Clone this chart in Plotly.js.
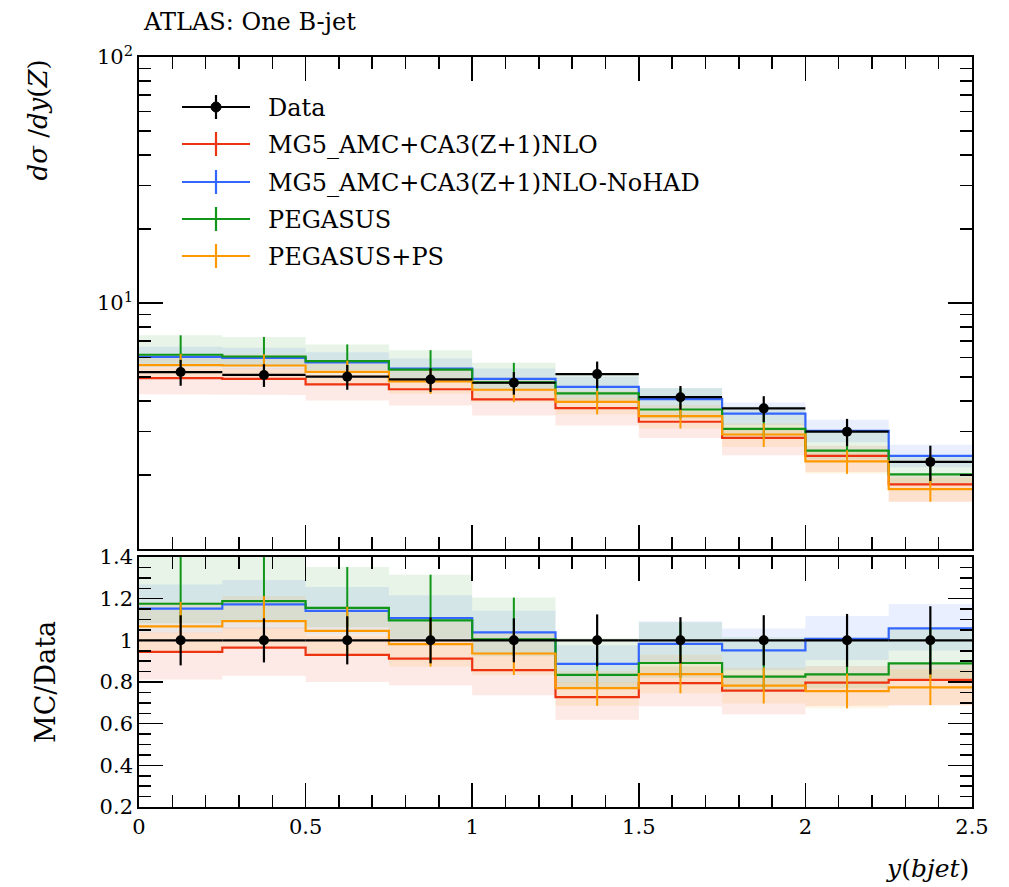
<!DOCTYPE html>
<html>
<head>
<meta charset="utf-8">
<script src="https://cdn.plot.ly/plotly-3.0.1.min.js"></script>
<style>
html,body{margin:0;padding:0;background:#fff;}
#chart{width:1009px;height:887px;}
</style>
</head>
<body>
<div id="chart"></div>
<script>
// ---- data ----
const binEdges = [0, 0.25, 0.5, 0.75, 1.0, 1.25, 1.5, 1.75, 2.0, 2.25, 2.5];
const dataVals = [5.24, 5.10, 5.02, 4.89, 4.74, 5.14, 4.14, 3.73, 3.00, 2.26];
const dataErr  = [0.63, 0.54, 0.58, 0.54, 0.50, 0.64, 0.46, 0.45, 0.38, 0.37];

const mg5Nlo    = [4.95, 4.92, 4.67, 4.46, 4.06, 3.74, 3.29, 2.83, 2.39, 1.83];
const mg5NloUp  = [0.10, 0.10, 0.10, 0.10, 0.10, 0.10, 0.10, 0.10, 0.10, 0.10];
const mg5NloDn  = [0.14, 0.14, 0.14, 0.14, 0.14, 0.15, 0.14, 0.15, 0.14, 0.15];

const mg5NoHad   = [6.04, 5.98, 5.73, 5.41, 4.92, 4.56, 4.07, 3.55, 3.02, 2.39];
const mg5NoHadUp = [0.10, 0.10, 0.10, 0.10, 0.10, 0.10, 0.11, 0.11, 0.11, 0.11];
const mg5NoHadDn = [0.10, 0.10, 0.10, 0.10, 0.10, 0.10, 0.10, 0.10, 0.10, 0.10];

const pegasus   = [6.16, 6.06, 5.80, 5.36, 4.76, 4.29, 3.69, 3.08, 2.51, 2.01];
const pegasusUp = [0.20, 0.20, 0.17, 0.20, 0.20, 0.21, 0.22, 0.23, 0.21, 0.19];
const pegasusDn = [0.08, 0.08, 0.08, 0.08, 0.08, 0.08, 0.08, 0.08, 0.08, 0.08];

const pegasusPs   = [5.59, 5.57, 5.25, 4.80, 4.44, 3.96, 3.47, 2.92, 2.27, 1.75];
const pegasusPsUp = [0.11, 0.11, 0.11, 0.11, 0.11, 0.11, 0.11, 0.11, 0.11, 0.11];
const pegasusPsDn = [0.11, 0.11, 0.11, 0.11, 0.11, 0.11, 0.11, 0.11, 0.11, 0.11];

const seriesNames = ["Data", "MG5_AMC+CA3(Z+1)NLO", "MG5_AMC+CA3(Z+1)NLO-NoHAD", "PEGASUS", "PEGASUS+PS"];
const xTickVals = [0, 0.5, 1, 1.5, 2, 2.5];
const xTickText = ["0", "0.5", "1", "1.5", "2", "2.5"];
const mainTickVals = [10, 100];
const mainTickText = ["10<sup>1</sup>", "10<sup>2</sup>"];
const mainMinorVals = [2,3,4,5,6,7,8,9,20,30,40,50,60,70,80,90];
const ratioTickVals = [0.2, 0.4, 0.6, 0.8, 1.0, 1.2, 1.4];
const ratioTickText = ["0.2", "0.4", "0.6", "0.8", "1", "1.2", "1.4"];

// ---- styling ----
const FONT = "DejaVu Serif";
const colors = {
  red: "#EE3311", blue: "#3366FF", green: "#109618", orange: "#FF9900"
};
const bandColors = {
  red: "rgba(238,51,17,0.11)", blue: "rgba(51,102,255,0.10)",
  green: "rgba(16,150,24,0.10)", orange: "rgba(255,153,0,0.10)"
};

const centers = dataVals.map((_, i) => (binEdges[i] + binEdges[i + 1]) / 2);
const halfW = dataVals.map((_, i) => (binEdges[i + 1] - binEdges[i]) / 2);

function stepY(vals) { return vals.concat([vals[vals.length - 1]]); }
function bandPoly(upper, lower) {
  const xs = [], ys = [];
  for (let i = 0; i < upper.length; i++) { xs.push(binEdges[i], binEdges[i + 1]); ys.push(upper[i], upper[i]); }
  for (let i = lower.length - 1; i >= 0; i--) { xs.push(binEdges[i + 1], binEdges[i]); ys.push(lower[i], lower[i]); }
  xs.push(xs[0]); ys.push(ys[0]);
  return {x: xs, y: ys};
}

const mcList = [
  {vals: mg5Nlo, up: mg5NloUp, dn: mg5NloDn, c: "red", bar: false},
  {vals: mg5NoHad, up: mg5NoHadUp, dn: mg5NoHadDn, c: "blue", bar: false},
  {vals: pegasus, up: pegasusUp, dn: pegasusDn, c: "green", bar: true},
  {vals: pegasusPs, up: pegasusPsUp, dn: pegasusPsDn, c: "orange", bar: true}
];

const traces = [];
[["x", "y", false], ["x2", "y2", true]].forEach(([xa, ya, isRatio]) => {
  const norm = isRatio ? dataVals : dataVals.map(() => 1);
  // bands
  mcList.forEach(m => {
    const v = m.vals.map((a, i) => a / norm[i]);
    const up = v.map((a, i) => a * (1 + m.up[i]));
    const dn = v.map((a, i) => a * (1 - m.dn[i]));
    const p = bandPoly(up, dn);
    traces.push({x: p.x, y: p.y, xaxis: xa, yaxis: ya, type: "scatter", mode: "lines",
      fill: "toself", fillcolor: bandColors[m.c], line: {width: 0}, hoverinfo: "skip", showlegend: false});
  });
  // step lines
  mcList.forEach(m => {
    const v = m.vals.map((a, i) => a / norm[i]);
    traces.push({x: binEdges, y: stepY(v), xaxis: xa, yaxis: ya, type: "scatter", mode: "lines",
      line: {shape: "hv", color: colors[m.c], width: 2.2}, showlegend: false});
  });
  // vertical uncertainty bars
  mcList.filter(m => m.bar).forEach(m => {
    const v = m.vals.map((a, i) => a / norm[i]);
    traces.push({x: centers, y: v, xaxis: xa, yaxis: ya, type: "scatter", mode: "markers",
      marker: {size: 1, color: "rgba(0,0,0,0)"},
      error_y: {type: "data", symmetric: false, array: v.map((a, i) => a * m.up[i]),
        arrayminus: v.map((a, i) => a * m.dn[i]), color: colors[m.c], thickness: 2, width: 0},
      showlegend: false});
  });
  // data
  const dv = isRatio ? dataVals.map(() => 1) : dataVals;
  const de = isRatio ? dataErr.map((e, i) => e / dataVals[i]) : dataErr;
  traces.push({x: centers, y: dv, xaxis: xa, yaxis: ya, type: "scatter", mode: "markers",
    marker: {size: 10, color: "black"},
    error_x: {type: "data", array: halfW, color: "black", thickness: 2.2, width: 0},
    error_y: {type: "data", array: de, color: "black", thickness: 2.2, width: 0},
    showlegend: false});
});

// ---- layout helpers (pixel -> paper) ----
const L = 139, R = 37, T = 57, B = 80, W = 1009, H = 887;
const pw = W - L - R, ph = H - T - B;
const xp = px => (px - L) / pw;
const yp = py => (H - B - py) / ph;

const axisCommon = {
  showline: true, linecolor: "black", linewidth: 1.8, mirror: "allticks",
  ticks: "inside", ticklen: 24, tickwidth: 1.5, tickcolor: "black",
  showgrid: false, zeroline: false,
  tickfont: {family: FONT, size: 21, color: "black"}
};

const shapes = [], annotations = [];
// legend (manual)
const legRows = [107, 144, 182, 219, 256];
const legColors = ["black", colors.red, colors.blue, colors.green, colors.orange];
legRows.forEach((py, i) => {
  shapes.push({type: "line", xref: "paper", yref: "paper", x0: xp(182), x1: xp(250), y0: yp(py), y1: yp(py),
    line: {color: legColors[i], width: 2.2}});
  shapes.push({type: "line", xref: "paper", yref: "paper", x0: xp(216), x1: xp(216), y0: yp(py - 12), y1: yp(py + 12),
    line: {color: legColors[i], width: 2.2}});
  if (i === 0) {
    shapes.push({type: "circle", xref: "paper", yref: "paper", x0: xp(211), x1: xp(221), y0: yp(py - 5), y1: yp(py + 5),
      fillcolor: "black", line: {color: "black", width: 1}});
  }
  annotations.push({xref: "paper", yref: "paper", x: xp(266), y: yp(py + 1), xanchor: "left", yanchor: "middle",
    text: seriesNames[i], showarrow: false, font: {family: FONT, size: 24, color: "black"}});
});

annotations.push({xref: "paper", yref: "paper", x: xp(141), y: yp(22), xanchor: "left", yanchor: "middle",
  text: "ATLAS: One B-jet", showarrow: false, font: {family: FONT, size: 24, color: "black"}});
annotations.push({xref: "paper", yref: "paper", x: xp(38), y: yp(58), xanchor: "center", yanchor: "top",
  textangle: -90, text: "<i>dσ</i> /<i>dy</i>(<i>Z</i>)", showarrow: false,
  font: {family: FONT, size: 26, color: "black"}});
annotations.push({xref: "paper", yref: "paper", x: xp(45), y: yp(682), xanchor: "center", yanchor: "middle",
  textangle: -90, text: "MC/Data", showarrow: false, font: {family: FONT, size: 27, color: "black"}});
annotations.push({xref: "paper", yref: "paper", x: xp(971), y: yp(868), xanchor: "right", yanchor: "middle",
  text: "<i>y</i>(<i>bjet</i>)", showarrow: false, font: {family: FONT, size: 25, color: "black"}});

const layout = {
  width: W, height: H,
  margin: {l: L, r: R, t: T, b: B},
  paper_bgcolor: "white", plot_bgcolor: "white",
  showlegend: false,
  xaxis: Object.assign({}, axisCommon, {domain: [0, 1], anchor: "y", range: [0, 2.5],
    tickmode: "array", tickvals: xTickVals, showticklabels: false,
    minor: {dtick: 0.1, tick0: 0, ticks: "inside", ticklen: 12, tickwidth: 1.5, tickcolor: "black", showgrid: false}}),
  yaxis: Object.assign({}, axisCommon, {domain: [yp(549), 1], anchor: "x", type: "log", range: [0, 2],
    tickmode: "array", tickvals: mainTickVals, ticktext: mainTickText,
    minor: {tickmode: "array", tickvals: mainMinorVals, ticks: "inside", ticklen: 12, tickwidth: 1.5, tickcolor: "black", showgrid: false}}),
  xaxis2: Object.assign({}, axisCommon, {domain: [0, 1], anchor: "y2", range: [0, 2.5],
    tickmode: "array", tickvals: xTickVals, ticktext: xTickText,
    minor: {dtick: 0.1, tick0: 0, ticks: "inside", ticklen: 12, tickwidth: 1.5, tickcolor: "black", showgrid: false}}),
  yaxis2: Object.assign({}, axisCommon, {domain: [0, yp(557)], anchor: "x2", range: [0.2, 1.4],
    tickmode: "array", tickvals: ratioTickVals, ticktext: ratioTickText,
    minor: {dtick: 0.05, tick0: 0.2, ticks: "inside", ticklen: 12, tickwidth: 1.5, tickcolor: "black", showgrid: false}}),
  shapes: shapes,
  annotations: annotations
};

Plotly.newPlot("chart", traces, layout, {displayModeBar: false, staticPlot: true});
</script>
</body>
</html>
